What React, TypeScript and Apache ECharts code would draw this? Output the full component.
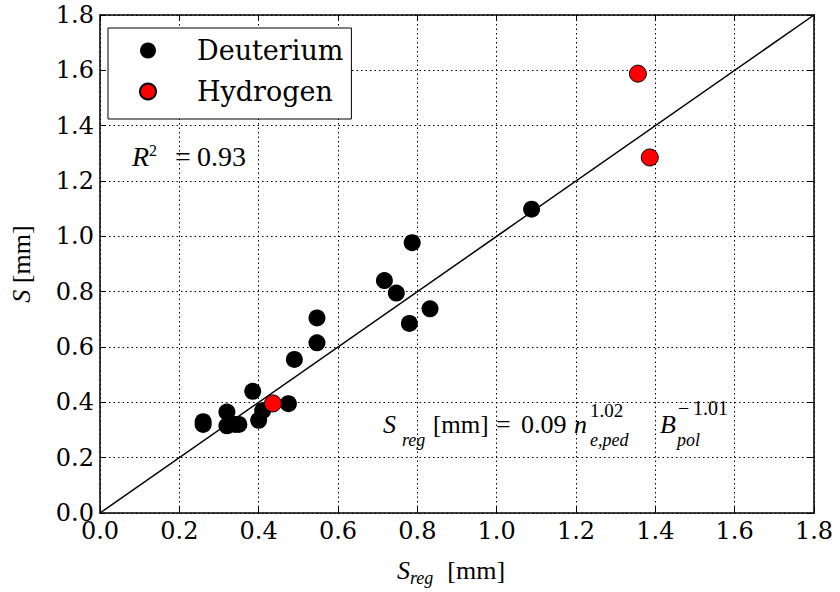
import React, { useEffect, useRef } from "react";
import * as echarts from "echarts";

const deuteriumX = [0.26, 0.26, 0.32, 0.32, 0.34, 0.35, 0.4, 0.41, 0.385, 0.475, 0.49, 0.547, 0.547, 0.717, 0.747, 0.787, 0.832, 0.78, 1.088];
const deuteriumY = [0.32, 0.33, 0.365, 0.315, 0.32, 0.32, 0.335, 0.37, 0.44, 0.395, 0.555, 0.615, 0.705, 0.84, 0.795, 0.977, 0.738, 0.685, 1.098];
const hydrogenX = [0.436, 1.356, 1.386];
const hydrogenY = [0.396, 1.588, 1.285];
const fitX = [0, 1.8];
const fitY = [0, 1.8];
const axisMin = 0;
const axisMax = 1.8;
const axisStep = 0.2;
const seriesNames = ["Deuterium", "Hydrogen"];

const SERIF = "DejaVu Serif, serif";
const MATH = "Liberation Serif, Times New Roman, serif";

const zip = (xs: number[], ys: number[]) => xs.map((x, i) => [x, ys[i]]);

const t = (text: string, x: number, y: number, size: number, italic = false) => ({
  type: "text",
  x,
  y,
  silent: true,
  style: {
    text,
    fill: "#000",
    fontFamily: MATH,
    fontSize: size,
    fontStyle: italic ? "italic" : "normal",
    verticalAlign: "middle",
    align: "left",
  },
});

export default function App() {
  const ref = useRef<HTMLDivElement>(null);
  useEffect(() => {
    if (!ref.current) return;
    const chart = echarts.init(ref.current, undefined, { renderer: "svg" });
    const gridLine = { show: true, lineStyle: { color: "#000", type: [1.5, 3], width: 1 } };
    const axisCommon = {
      type: "value",
      min: axisMin,
      max: axisMax,
      interval: axisStep,
      axisLine: { show: true, onZero: false, lineStyle: { color: "#000", width: 1.5 } },
      axisTick: { show: true, inside: true, length: 6, lineStyle: { color: "#000" } },
    };
    const mirror = {
      ...axisCommon,
      axisLabel: { show: false },
      splitLine: { show: false },
    };
    chart.setOption({
      animation: false,
      backgroundColor: "#fff",
      textStyle: { fontFamily: SERIF },
      grid: { left: 94, right: 26, top: 15, bottom: 72, containLabel: false },
      xAxis: [
        {
          ...axisCommon,
          position: "bottom",
          axisLabel: {
            color: "#000",
            fontFamily: SERIF,
            fontSize: 24,
            margin: 6,
            formatter: (v: number) => v.toFixed(1),
          },
          splitLine: gridLine,
          name: "{i|S}{s|reg}{m|[mm]}",
          nameLocation: "middle",
          nameGap: 40,
          nameTextStyle: {
            color: "#000",
            fontFamily: MATH,
            padding: [0, 12, 0, 0],
            rich: {
              i: { fontFamily: MATH, fontSize: 26, fontStyle: "italic", lineHeight: 34, color: "#000" },
              s: { fontFamily: MATH, fontSize: 18, fontStyle: "italic", lineHeight: 17, verticalAlign: "bottom", color: "#000" },
              m: { fontFamily: MATH, fontSize: 26, lineHeight: 34, padding: [0, 0, 0, 14], color: "#000" },
            },
          },
        },
        { ...mirror, position: "top" },
      ],
      yAxis: [
        {
          ...axisCommon,
          position: "left",
          axisLabel: {
            color: "#000",
            fontFamily: SERIF,
            fontSize: 24,
            margin: 6,
            formatter: (v: number) => v.toFixed(1),
          },
          splitLine: gridLine,
          name: "{i|S}{m| [mm]}",
          nameLocation: "middle",
          nameGap: 66,
          nameRotate: 90,
          nameTextStyle: {
            color: "#000",
            fontFamily: MATH,
            rich: {
              i: { fontFamily: MATH, fontSize: 26, fontStyle: "italic", color: "#000" },
              m: { fontFamily: MATH, fontSize: 26, color: "#000" },
            },
          },
        },
        { ...mirror, position: "right" },
      ],
      legend: {
        data: seriesNames,
        orient: "vertical",
        left: 108,
        top: 28,
        icon: "circle",
        itemWidth: 16,
        itemHeight: 16,
        itemGap: 14,
        padding: [9, 8, 14, 31],
        borderColor: "#000",
        borderWidth: 1,
        borderRadius: 0,
        backgroundColor: "#fff",
        formatter: (n: string) => `{t|${n}}`,
        textStyle: {
          color: "#000",
          fontFamily: SERIF,
          fontSize: 27,
          lineHeight: 26,
          rich: {
            t: { fontFamily: SERIF, fontSize: 27, lineHeight: 26, padding: [0, 0, 0, 36], color: "#000" },
          },
        },
      },
      series: [
        {
          type: "line",
          name: "fit",
          data: zip(fitX, fitY),
          showSymbol: false,
          symbol: "none",
          lineStyle: { color: "#000", width: 1.5 },
          z: 1,
          silent: true,
        },
        {
          type: "scatter",
          name: seriesNames[0],
          data: zip(deuteriumX, deuteriumY),
          symbol: "circle",
          symbolSize: 17,
          itemStyle: { color: "#000", opacity: 1 },
          z: 3,
        },
        {
          type: "scatter",
          name: seriesNames[1],
          data: zip(hydrogenX, hydrogenY),
          symbol: "circle",
          symbolSize: 17,
          itemStyle: { color: "#ff0000", borderColor: "#000", borderWidth: 1, opacity: 1 },
          z: 4,
        },
      ],
      graphic: [
        t("R", 132, 156, 28, true),
        t("2", 149, 150, 16),
        t("=", 175, 156, 28),
        t("0.93", 197, 156, 28),
        t("S", 383, 424, 26, true),
        t("reg", 402, 440, 18, true),
        t("[mm]", 433, 424, 25),
        t("=", 496, 424, 26),
        t("0.09", 521, 424, 26),
        t("n", 574, 424, 26, true),
        t("1.02", 590, 410, 19),
        t("e,ped", 590, 440, 18, true),
        t("B", 660, 424, 26, true),
        t("\u2212", 678, 408, 20),
        t("1.01", 693, 408, 20),
        t("pol", 677, 440, 18, true),
      ],
    });
    return () => chart.dispose();
  }, []);
  return (
    <div
      ref={ref}
      style={{ position: "absolute", left: 0, top: 0, width: 840, height: 592 }}
    />
  );
}
